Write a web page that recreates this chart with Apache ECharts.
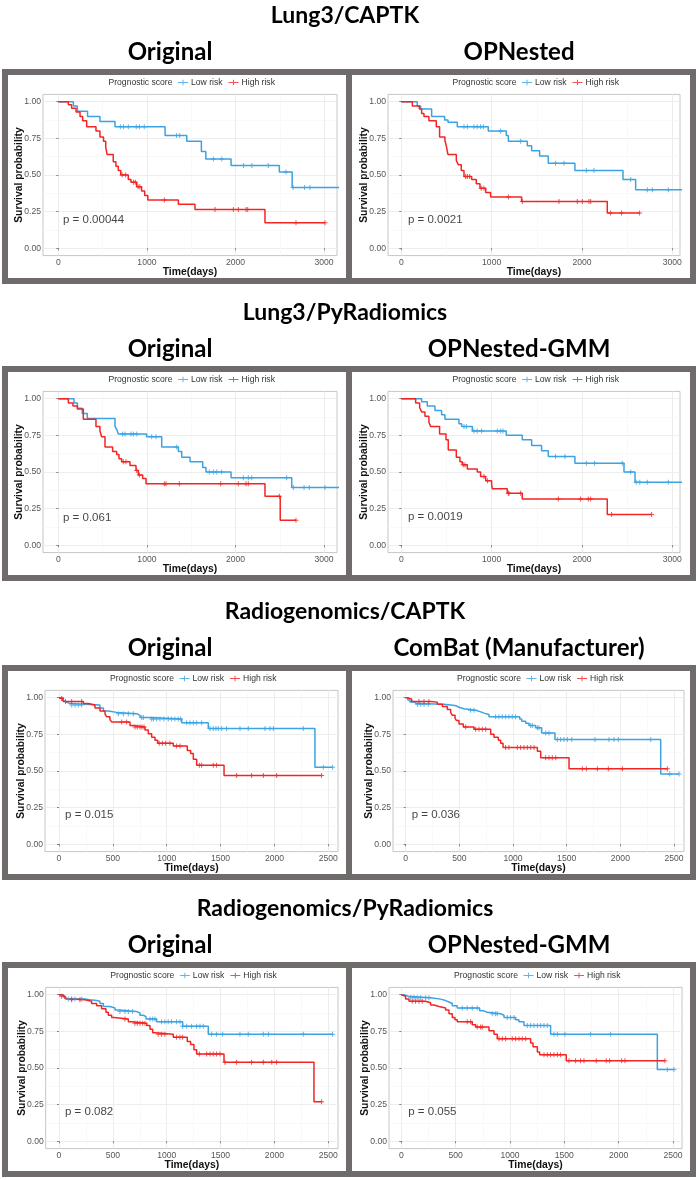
<!DOCTYPE html>
<html><head><meta charset="utf-8">
<script src="https://cdn.jsdelivr.net/npm/echarts@6/dist/echarts.min.js"></script>
<style>html,body{margin:0;padding:0;background:#fff}#c{width:699px;height:1180px}</style>
</head><body><div id="c"></div>
<script>
// ---------------- DATA ----------------
const groupTitles = ['Lung3/CAPTK', 'Lung3/PyRadiomics', 'Radiogenomics/CAPTK', 'Radiogenomics/PyRadiomics'];
const panelTitles = ['Original', 'OPNested', 'Original', 'OPNested-GMM', 'Original', 'ComBat (Manufacturer)', 'Original', 'OPNested-GMM'];
const pValues = ['p = 0.00044', 'p = 0.0021', 'p = 0.061', 'p = 0.0019', 'p = 0.015', 'p = 0.036', 'p = 0.082', 'p = 0.055'];
const legendTitle = 'Prognostic score';
const groupNames = ['Low risk', 'High risk'];
const xTicks3000 = [0, 1000, 2000, 3000];
const xMinor3000 = [500, 1500, 2500];
const xTicks2500 = [0, 500, 1000, 1500, 2000, 2500];
const xMinor2500 = [250, 750, 1250, 1750, 2250];
const yTicks = [0, 0.25, 0.5, 0.75, 1];
const yMinor = [0.125, 0.375, 0.625, 0.875];

// Panel 1: Lung3/CAPTK Original
const p1LowSteps = [[0,1],[170,0.97],[215,0.935],[330,0.90],[470,0.865],[640,0.83],[1205,0.77],[1450,0.73],[1615,0.66],[1665,0.61],[1950,0.565],[2495,0.52],[2640,0.415]];
const p1LowCensor = [700,735,790,880,915,970,1335,1370,1750,1845,2090,2185,2370,2570,2650,2780,2840,3200];
const p1HighSteps = [[0,1],[113,0.98],[150,0.955],[200,0.93],[245,0.90],[275,0.87],[320,0.83],[425,0.80],[470,0.76],[510,0.73],[535,0.69],[550,0.64],[620,0.59],[650,0.56],[677,0.53],[705,0.50],[790,0.47],[820,0.45],[885,0.42],[940,0.39],[975,0.36],[1010,0.33],[1355,0.30],[1543,0.265],[2333,0.175]];
const p1HighCensor = [720,760,850,870,900,920,1197,1769,1976,2032,2119,2138,2683,3011];
// Panel 2: Lung3/CAPTK OPNested
const p2LowSteps = [[0,1],[177,0.97],[214,0.95],[336,0.90],[480,0.875],[517,0.86],[620,0.83],[963,0.80],[1162,0.77],[1185,0.73],[1395,0.70],[1443,0.665],[1531,0.63],[1627,0.58],[1922,0.53],[2454,0.47],[2594,0.40]];
const p2LowCensor = [694,731,804,841,878,908,1100,1321,1708,1801,2048,2133,2539,2723,2779,2956,3150];
const p2HighSteps = [[0,1],[122,0.97],[200,0.95],[225,0.92],[251,0.90],[306,0.87],[387,0.83],[424,0.76],[483,0.735],[498,0.70],[516,0.64],[609,0.60],[631,0.57],[664,0.53],[694,0.49],[779,0.47],[830,0.44],[871,0.41],[934,0.38],[989,0.35],[1332,0.32],[2280,0.24]];
const p2HighCensor = [712,731,756,885,915,1185,1339,1745,1948,2004,2077,2096,2317,2439,2638];
// Panel 3: Lung3/PyRadiomics Original
const p3LowSteps = [[0,1],[177,0.97],[215,0.935],[270,0.90],[327,0.865],[640,0.81],[660,0.79],[677,0.76],[997,0.74],[1167,0.67],[1355,0.64],[1393,0.60],[1487,0.57],[1630,0.53],[1667,0.50],[1950,0.46],[2635,0.395]];
const p3LowCensor = [726,753,820,847,885,1054,1103,1336,1705,1750,1788,1844,2089,2145,2183,2578,2653,2774,2834,3011,3200];
const p3HighSteps = [[0,1],[113,0.97],[165,0.95],[215,0.93],[282,0.86],[425,0.81],[470,0.78],[489,0.74],[527,0.67],[613,0.64],[659,0.62],[685,0.59],[715,0.57],[809,0.545],[877,0.51],[903,0.48],[952,0.455],[990,0.42],[2333,0.335],[2505,0.17]];
const p3HighCensor = [734,764,885,915,1197,1216,1366,1833,2032,2119,2145,2495,2683];
// Panel 4: Lung3/PyRadiomics OPNested-GMM
const p4LowSteps = [[0,1],[225,0.98],[288,0.95],[373,0.92],[446,0.89],[483,0.86],[638,0.83],[668,0.81],[786,0.78],[1162,0.75],[1339,0.72],[1443,0.68],[1553,0.645],[1627,0.605],[1922,0.56],[2465,0.50],[2587,0.43]];
const p4LowCensor = [694,720,804,841,889,1063,1100,1125,1708,1812,2048,2140,2446,2539,2600,2640,2723,2956,3150];
const p4HighSteps = [[0,1],[159,0.97],[203,0.94],[225,0.91],[262,0.88],[306,0.84],[325,0.81],[424,0.76],[495,0.72],[520,0.65],[609,0.60],[649,0.57],[675,0.55],[731,0.52],[841,0.50],[878,0.47],[934,0.44],[1000,0.415],[1007,0.385],[1173,0.355],[1339,0.315],[2280,0.21]];
const p4HighCensor = [686,705,915,955,1185,1192,1321,1738,1985,2070,2096,2328,2771];
// Panel 5: Radiogenomics/CAPTK Original
const p5LowSteps = [[0,1],[40,0.98],[56,0.97],[71,0.96],[102,0.95],[380,0.93],[412,0.91],[458,0.90],[535,0.89],[727,0.88],[752,0.865],[835,0.855],[1139,0.83],[1386,0.79],[2376,0.525]];
const p5LowCensor = [118,149,180,210,551,597,644,690,768,783,860,876,906,937,974,1014,1045,1076,1107,1129,1185,1216,1247,1278,1324,1402,1432,1457,1479,1510,1556,1680,1757,1912,1959,1990,2268,2454,2540];
const p5HighSteps = [[0,1],[10,0.995],[30,0.985],[40,0.975],[226,0.96],[272,0.95],[334,0.93],[380,0.91],[427,0.89],[442,0.87],[473,0.85],[489,0.835],[659,0.81],[690,0.80],[798,0.78],[829,0.755],[860,0.73],[891,0.71],[916,0.69],[1061,0.67],[1191,0.64],[1222,0.62],[1247,0.58],[1278,0.54],[1532,0.47]];
const p5HighCensor = [25,60,118,210,582,628,705,727,752,770,789,930,960,990,1030,1092,1123,1303,1324,1432,1463,1649,1788,1897,2020,2438];
// Panel 6: Radiogenomics/CAPTK ComBat (Manufacturer)
const p6LowSteps = [[0,1],[20,0.985],[40,0.97],[78,0.96],[103,0.955],[357,0.95],[419,0.945],[472,0.935],[497,0.925],[543,0.915],[652,0.905],[693,0.895],[730,0.885],[776,0.87],[1062,0.855],[1081,0.84],[1118,0.825],[1149,0.81],[1211,0.795],[1267,0.76],[1391,0.715],[2376,0.48]];
const p6LowCensor = [109,140,171,211,605,637,838,869,900,931,962,993,1024,1165,1180,1227,1242,1304,1335,1413,1444,1475,1506,1547,1764,1894,1941,1981,2283,2460,2547];
const p6HighSteps = [[0,1],[20,0.99],[56,0.975],[233,0.97],[295,0.955],[342,0.94],[388,0.92],[419,0.90],[435,0.88],[460,0.86],[472,0.845],[497,0.82],[537,0.80],[637,0.785],[792,0.75],[823,0.73],[863,0.71],[885,0.69],[907,0.66],[1227,0.635],[1258,0.59],[1522,0.515]];
const p6HighCensor = [124,171,217,559,652,683,714,745,931,962,1040,1071,1102,1133,1165,1196,1304,1335,1366,1398,1646,1683,1786,1888,2019,2438];
// Panel 7: Radiogenomics/PyRadiomics Original
const p7LowSteps = [[0,1],[40,0.985],[65,0.97],[251,0.965],[288,0.96],[350,0.955],[380,0.94],[412,0.92],[473,0.91],[520,0.895],[551,0.885],[721,0.875],[752,0.86],[783,0.85],[808,0.835],[906,0.815],[1148,0.785],[1386,0.73]];
const p7LowCensor = [87,118,149,211,566,613,644,684,845,870,891,952,983,1014,1045,1092,1123,1148,1185,1231,1278,1309,1340,1417,1463,1519,1680,1757,1897,1944,2268,2540];
const p7HighSteps = [[0,1],[20,0.99],[56,0.975],[71,0.965],[241,0.955],[303,0.94],[350,0.925],[396,0.905],[436,0.88],[458,0.86],[489,0.845],[511,0.835],[644,0.815],[675,0.81],[690,0.805],[814,0.79],[845,0.765],[870,0.74],[891,0.73],[1061,0.71],[1191,0.68],[1222,0.66],[1253,0.625],[1278,0.595],[1532,0.54],[2367,0.27]];
const p7HighCensor = [25,118,195,613,705,727,752,777,798,921,952,983,1092,1123,1148,1303,1371,1402,1432,1463,1494,1541,1649,1788,1897,1975,2020,2438];
// Panel 8: Radiogenomics/PyRadiomics OPNested-GMM
const p8LowSteps = [[0,1],[25,0.99],[64,0.98],[270,0.97],[362,0.96],[408,0.95],[439,0.94],[469,0.925],[515,0.91],[721,0.89],[761,0.88],[791,0.87],[914,0.86],[945,0.845],[1052,0.83],[1083,0.815],[1129,0.79],[1374,0.73],[2356,0.49]];
const p8LowCensor = [86,117,147,178,224,255,561,607,653,699,837,868,883,975,1006,1037,1160,1190,1221,1252,1282,1313,1344,1405,1436,1506,1742,1926,2448,2509];
const p8HighSteps = [[0,1],[15,0.99],[40,0.97],[71,0.955],[224,0.945],[270,0.93],[301,0.92],[347,0.91],[408,0.895],[439,0.87],[469,0.845],[494,0.83],[515,0.815],[653,0.795],[684,0.78],[807,0.755],[853,0.73],[883,0.70],[1190,0.67],[1212,0.645],[1252,0.61],[1273,0.59],[1518,0.55]];
const p8HighCensor = [101,132,163,193,607,638,699,730,745,899,930,960,1021,1052,1083,1113,1144,1313,1344,1374,1405,1436,1466,1543,1604,1650,1681,1794,1886,1917,2028,2058,2426];

// ---------------- LAYOUT / STYLE ----------------
const BLUE = '#3aa3e3', RED = '#f32424';
const COLORS = [BLUE, RED];
const panels = [
  {low: p1LowSteps, lowC: p1LowCensor, high: p1HighSteps, highC: p1HighCensor, ticks: xTicks3000, minor: xMinor3000},
  {low: p2LowSteps, lowC: p2LowCensor, high: p2HighSteps, highC: p2HighCensor, ticks: xTicks3000, minor: xMinor3000},
  {low: p3LowSteps, lowC: p3LowCensor, high: p3HighSteps, highC: p3HighCensor, ticks: xTicks3000, minor: xMinor3000},
  {low: p4LowSteps, lowC: p4LowCensor, high: p4HighSteps, highC: p4HighCensor, ticks: xTicks3000, minor: xMinor3000},
  {low: p5LowSteps, lowC: p5LowCensor, high: p5HighSteps, highC: p5HighCensor, ticks: xTicks2500, minor: xMinor2500},
  {low: p6LowSteps, lowC: p6LowCensor, high: p6HighSteps, highC: p6HighCensor, ticks: xTicks2500, minor: xMinor2500},
  {low: p7LowSteps, lowC: p7LowCensor, high: p7HighSteps, highC: p7HighCensor, ticks: xTicks2500, minor: xMinor2500},
  {low: p8LowSteps, lowC: p8LowCensor, high: p8HighSteps, highC: p8HighCensor, ticks: xTicks2500, minor: xMinor2500}
];
const layoutX = [
  {l: 43, r: 337, min: -173, max: 3146},
  {l: 388, r: 680, min: -147, max: 3085},
  {l: 43, r: 337, min: -173, max: 3146},
  {l: 388, r: 680, min: -147, max: 3085},
  {l: 45, r: 338, min: -130, max: 2590},
  {l: 393, r: 684, min: -118, max: 2593},
  {l: 45.7, r: 338, min: -123, max: 2590},
  {l: 389, r: 682, min: -113, max: 2583}
];
const rowTop = [69, 366, 665, 962];
const boxH = 215;
const colBox = [[2, 352], [346, 696]];
const subCenter = [170, 519];
const pvPos = [[53, 0.193], [74, 0.193], [53, 0.19], [74, 0.193], [56, 0.2], [56, 0.198], [56, 0.198], [64, 0.198]];

function survAt(steps, t) {
  let s = steps[0][1];
  for (const p of steps) { if (p[0] <= t) s = p[1]; else break; }
  return s;
}
function lineData(steps, censor) {
  const out = steps.map(p => p.slice());
  const last = Math.max(...censor);
  if (last > out[out.length - 1][0]) out.push([last, out[out.length - 1][1]]);
  return out;
}
const PLUS = 'path://M4,0h2v10h-2z M0,4h10v2h-10z';
const LEG_ICON = 'path://M0,4.3h14v1.4h-14z M6.3,1h1.4v8h-1.4z';

const grids = [], xAxes = [], yAxes = [], series = [], legends = [], graphics = [];
const FONT = 'Liberation Sans, Arial, sans-serif';
const TITLE_FONT = 'Lato, Open Sans, sans-serif';

groupTitles.forEach((g, r) => {
  graphics.push({type: 'text', z: 10, x: 345, y: rowTop[r] - 65,
    style: {text: g, font: 'bold 23px ' + TITLE_FONT, fill: '#000', align: 'center', verticalAlign: 'top'}});
});

panels.forEach((P, i) => {
  const r = Math.floor(i / 2), c = i % 2;
  const T = rowTop[r];
  const L = layoutX[i];
  graphics.push({type: 'rect', z: 0,
    shape: {x: colBox[c][0] + 3, y: T + 3, width: colBox[c][1] - colBox[c][0] - 6, height: boxH - 6},
    style: {fill: 'none', stroke: '#6f6b6b', lineWidth: 6}});
  graphics.push({type: 'text', z: 10,
    x: subCenter[c], y: T - 29,
    style: {text: panelTitles[i], font: 'bold 24px ' + TITLE_FONT, fill: '#000', align: 'center', verticalAlign: 'top'}});
  const cx = (L.l + L.r) / 2;
  graphics.push({type: 'text', z: 10, x: cx - 81.5, y: T + 14,
    style: {text: legendTitle, font: '8.6px ' + FONT, fill: '#333', verticalAlign: 'middle'}});
  const names = groupNames.map(nm => nm + '#' + i);
  legends.push({
    left: cx - 12, top: T + 9, itemWidth: 10, itemHeight: 7, itemGap: 6, padding: 0,
    selectedMode: false,
    formatter: n => n.split('#')[0],
    textStyle: {fontSize: 8.6, color: '#333', fontFamily: FONT, padding: [0, 0, 0, -2]},
    data: names.map((nm, k) => ({name: nm, icon: LEG_ICON,
      itemStyle: {color: COLORS[k], borderColor: COLORS[k], borderWidth: 0}}))
  });
  grids.push({left: L.l, width: L.r - L.l, top: T + 25.4, height: 161.2,
    show: true, borderColor: '#c6c6c6', borderWidth: 1, backgroundColor: '#fff'});
  xAxes.push({
    gridIndex: i, type: 'value', min: L.min, max: L.max,
    name: 'Time(days)', nameLocation: 'middle', nameGap: 12, nameMoveOverlap: false,
    nameTextStyle: {fontWeight: 'bold', fontSize: 10.4, color: '#111', fontFamily: FONT},
    axisLine: {show: false},
    axisTick: {show: true, customValues: P.ticks, length: 2, lineStyle: {color: '#666', width: 0.8}},
    axisLabel: {customValues: P.ticks, margin: 3, fontSize: 8.6, color: '#555', fontFamily: FONT,
      formatter: v => String(v)},
    splitLine: {show: true, lineStyle: {color: '#ebebeb', width: 0.9}}
  });
  xAxes.push({
    gridIndex: i, type: 'value', min: L.min, max: L.max, position: 'bottom',
    axisLine: {show: false}, axisLabel: {show: false},
    axisTick: {show: false, customValues: P.minor},
    splitLine: {show: true, lineStyle: {color: '#f5f5f5', width: 0.6}}
  });
  yAxes.push({
    gridIndex: i, type: 'value', min: -0.05, max: 1.05,
    name: 'Survival probability', nameLocation: 'middle', nameGap: 19, nameRotate: 90, nameMoveOverlap: false,
    nameTextStyle: {fontWeight: 'bold', fontSize: 10.3, color: '#111', fontFamily: FONT},
    axisLine: {show: false},
    axisTick: {show: true, customValues: yTicks, length: 2, lineStyle: {color: '#666', width: 0.8}},
    axisLabel: {customValues: yTicks, margin: 2, fontSize: 8.6, color: '#555', fontFamily: FONT,
      formatter: v => v.toFixed(2)},
    splitLine: {show: true, lineStyle: {color: '#ebebeb', width: 0.9}}
  });
  yAxes.push({
    gridIndex: i, type: 'value', min: -0.05, max: 1.05, position: 'left',
    axisLine: {show: false}, axisLabel: {show: false},
    axisTick: {show: false, customValues: yMinor},
    splitLine: {show: true, lineStyle: {color: '#f5f5f5', width: 0.6}}
  });
  const xi = 2 * i, yi = 2 * i;
  [[P.low, P.lowC, BLUE, names[0]], [P.high, P.highC, RED, names[1]]].forEach(([steps, cens, col, nm]) => {
    series.push({
      type: 'line', name: nm + ' curve', color: col, xAxisIndex: xi, yAxisIndex: yi, step: 'end',
      data: lineData(steps, cens), showSymbol: false, symbol: 'none', silent: true,
      lineStyle: {color: col, width: 1.5}, itemStyle: {color: col}, z: 3
    });
    series.push({
      type: 'scatter', name: nm, color: col, xAxisIndex: xi, yAxisIndex: yi,
      data: cens.map(t => [t, survAt(steps, t)]),
      symbol: PLUS, symbolSize: 5, itemStyle: {color: col}, silent: true, z: 4
    });
  });
  series.push({
    type: 'scatter', name: 'pval' + i, color: '#111', xAxisIndex: xi, yAxisIndex: yi, symbolSize: 0, silent: true,
    data: [pvPos[i]],
    label: {show: true, position: 'right', distance: 0, formatter: pValues[i],
      fontSize: 11.5, color: '#111', fontFamily: FONT}
  });
});

const chart = echarts.init(document.getElementById('c'), null, {renderer: 'canvas'});
chart.setOption({
  backgroundColor: '#fff',
  animation: false,
  color: COLORS,
  grid: grids, xAxis: xAxes, yAxis: yAxes, legend: legends, series: series,
  graphic: {elements: graphics}
});
</script></body></html>
